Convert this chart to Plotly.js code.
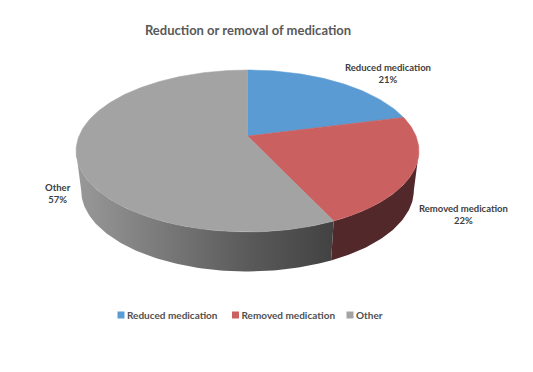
<!DOCTYPE html>
<html>
<head>
<meta charset="utf-8">
<script src="https://cdn.plot.ly/plotly-3.0.1.min.js"></script>
<style>html,body{margin:0;padding:0;background:#fff}#chart{width:533px;height:372px}</style>
</head>
<body>
<div id="chart"></div>
<script>
// Data
const categories = ["Reduced medication", "Removed medication", "Other"];
const values = [21, 22, 57];

// Styles
const topColors = ["#5b9bd3", "#cb6060", "#a3a3a3"];
const FONT = "Lato, Carlito, sans-serif";

// Projection of the pie disc (pixel-scaled hidden axes)
const cx = 247.5, pivotY = 136, persp = 0.185, radX = 168.5, radY = 78.2;
const wallDrop = 39.5, wallShrink = 0.97;
const total = values.reduce((a, b) => a + b, 0);
const rad = d => d * Math.PI / 180;
const tilt = d => 1 + persp * Math.cos(rad(d));
const topPt = d => [cx + radX * Math.sin(rad(d)) / tilt(d), pivotY - radY * Math.cos(rad(d)) / tilt(d)];
const basePt = d => { const p = topPt(d); return [cx + (p[0] - cx) * wallShrink, p[1] + wallDrop]; };
const arc = (a, b, fn) => {
  const n = Math.max(2, Math.ceil(Math.abs(b - a)));
  const out = [];
  for (let i = 0; i <= n; i++) out.push(fn(a + (b - a) * i / n));
  return out;
};
const silhouette = Math.acos(-persp) * 180 / Math.PI; // angle of the widest point of the disc

let run = 0;
const bounds = values.map(v => { const s = run; run += v; return [s / total * 360, run / total * 360]; });

const wallPoly = (a, b) => {
  const pts = arc(a, b, topPt).concat(arc(b, a, basePt));
  pts.push(pts[0]);
  return { x: pts.map(p => p[0]), y: pts.map(p => p[1]) };
};
const slicePoly = (a, b) => {
  const pts = [[cx, pivotY]].concat(arc(a, b, topPt));
  pts.push(pts[0]);
  return { x: pts.map(p => p[0]), y: pts.map(p => p[1]) };
};

const traces = [];
// Side walls
const redWall = wallPoly(silhouette, bounds[1][1]);
traces.push({ x: redWall.x, y: redWall.y, mode: "lines", line: { width: 0 }, fill: "toself",
  fillcolor: "#52282a", showlegend: false, hoverinfo: "skip" });
const greyWall = wallPoly(bounds[2][0], 360 - silhouette);
traces.push({ x: greyWall.x, y: greyWall.y, mode: "lines", line: { width: 0 }, fill: "toself",
  fillgradient: { type: "horizontal", colorscale: [[0, "#999999"], [0.67, "#5a5a5a"], [1, "#424242"]] },
  showlegend: false, hoverinfo: "skip" });
// Top face
categories.forEach((c, i) => {
  const s = slicePoly(bounds[i][0], bounds[i][1]);
  traces.push({ x: s.x, y: s.y, mode: "lines", line: { width: 0.5, color: topColors[i] }, fill: "toself",
    fillcolor: topColors[i], showlegend: false, name: c, hoverinfo: "name" });
});
// Legend entries
categories.forEach((c, i) => {
  traces.push({ x: [null], y: [null], mode: "markers", name: c,
    marker: { symbol: "square", size: 7, color: topColors[i] }, showlegend: true });
});

const labelPos = [[387.5, 73.5], [463.5, 214.5], [58, 193]];
const annotations = categories.map((c, i) => ({
  x: labelPos[i][0], y: labelPos[i][1], xref: "x", yref: "y", showarrow: false,
  text: c + "<br>" + values[i] + "%", align: "center",
  font: { family: FONT, size: 9.5, color: "#404040", weight: 700 }
}));

const layout = {
  width: 533, height: 372, margin: { l: 0, r: 0, t: 0, b: 0 },
  paper_bgcolor: "#fff", plot_bgcolor: "#fff", showlegend: true,
  title: { text: "Reduction or removal of medication", x: 248 / 533, xanchor: "center", y: 1 - 30 / 372, yanchor: "middle",
    font: { family: FONT, size: 13, color: "#595959", weight: 700 } },
  xaxis: { range: [0, 533], visible: false, fixedrange: true },
  yaxis: { range: [372, 0], visible: false, fixedrange: true },
  legend: { orientation: "h", x: 87 / 533, xanchor: "left", y: 1 - 315 / 372, yanchor: "middle",
    itemwidth: 30, entrywidth: 69.5, entrywidthmode: "pixels",
    font: { family: FONT, size: 10, color: "#505050", weight: 700 }, bgcolor: "rgba(0,0,0,0)" },
  annotations
};

const gd = document.getElementById("chart");
const nudgeLegend = () => {
  gd.querySelectorAll(".legend .legendsymbols").forEach(g => g.setAttribute("transform", "translate(14,0)"));
};
Plotly.newPlot(gd, traces, layout, { displayModeBar: false, responsive: false }).then(() => {
  nudgeLegend();
  gd.on("plotly_afterplot", nudgeLegend);
});
</script>
</body>
</html>
